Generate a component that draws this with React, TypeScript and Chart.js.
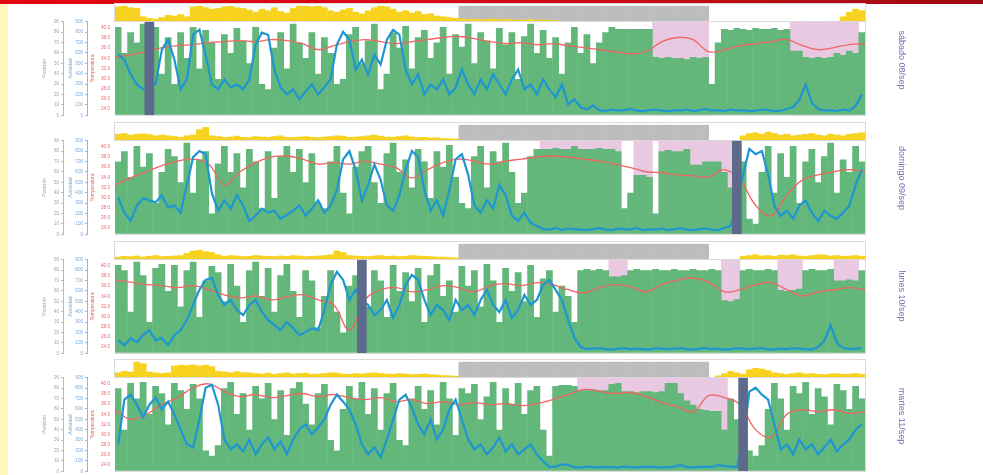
import React, { useEffect, useRef } from 'react';
import { Chart, registerables } from 'chart.js';

Chart.register(...registerables);
Chart.defaults.font.family = "'Liberation Sans', Arial, sans-serif";

// ---------- time base ----------
const START_MINUTES = 12 * 60; // record starts at 12:00
const BIN_MINUTES = 12;
const TEMP_STEP_HOURS = 0.5;
const DAY_HOURS = 24;
const NIGHT_RANGE: [number, number] = [55, 94]; // bins of the sleep window (grey)

// ---------- axes ----------
const POS_MAX = 90;
const POS_STEP = 10;
const ACT_MAX = 900;
const ACT_STEP = 100;
const TEMP_MIN = 22.8;
const TEMP_MAX = 41.2;
const TEMP_STEP = 2;
const STRIP_MAX = 112;
const STRIP_NIGHT = 100;

// ---------- sábado 08/sep ----------
const D1_LABEL = 'sábado 08/sep';
const D1_GREEN = [
  85, 60, 80, 70, 88, 88, 85, 40, 75, 30, 80, 55, 85,
  45, 82, 70, 35, 78, 60, 84, 72, 50, 85, 30, 25, 65, 80, 45,
  88, 70, 55, 80, 40, 75, 60, 30, 35, 78, 85, 50, 72, 88, 25, 40,
  80, 65, 86, 45, 75, 82, 55, 70, 85, 40, 78, 66, 88, 50, 80, 72,
  45, 84, 68, 80, 35, 76, 88, 60, 82, 55, 75, 40, 70, 85, 60, 78, 50,
  70, 80, 85, 83, 83, 83, 83, 83, 83,
  56, 55, 56, 55, 55, 54, 56, 55, 56, 30, 70,
  83, 82, 84, 83, 82, 84, 83, 83, 84, 82, 83,
  62, 62, 56, 55, 56, 55, 56, 60, 58, 62, 60, 80,
];
const D1_BLUE = [
  584, 536, 393, 297, 249, 297, 297,
  632, 728, 536, 249, 345, 775, 823, 584, 297, 249, 345, 268, 297,
  249, 345, 680, 795, 775, 440, 268, 201,
  249, 153, 230, 297, 201, 268, 345, 680,
  804, 728, 440, 536, 393, 584, 488, 728,
  823, 775, 440, 297, 393, 201, 297, 249,
  345, 201, 268, 440, 297, 201, 345, 249,
  393, 297, 201, 345, 440, 249, 297, 201,
  345, 249, 172, 297, 105, 153, 77, 57, 96, 48,
  40, 55, 45, 50, 60, 45, 40, 50, 55, 45, 40, 50,
  45, 55, 40, 50, 60, 45, 50, 40, 55, 45, 50, 40,
  45, 55, 50, 40, 45, 60, 80, 150, 297, 120, 60, 45,
  50, 40, 55, 45, 90, 200,
];
const D1_TEMP = [
  34.2, 34.7, 35.3, 36.1, 36.5, 36.7, 37.1, 37.3, 37.5, 37.3,
  37.7, 37.5, 36.9, 35.7, 36.5, 37.3, 37.7, 37.3, 36.9, 37.3,
  37.7, 38.1, 38.3, 37.9, 37.3, 36.9, 37.1, 36.7, 36.9, 36.5,
  36.1, 35.7, 35.3, 34.9, 35.3, 37.3, 38.1, 37.7, 35.3, 35.7,
  36.5, 36.9, 37.3, 37.7, 36.5, 35.7, 36.1, 36.7, 36.9,
];
const D1_LIGHT = [
  95, 100, 90, 85, 30, 20, 15, 25, 40, 35, 45, 30, 95, 100, 90,
  80, 85, 95, 100, 90, 85, 75, 60, 80, 70, 90, 65, 55, 85,
  100, 100, 95, 100, 90, 70, 60, 75, 85, 60, 50, 70, 90, 100, 95,
  80, 60, 70, 55, 65, 45, 50, 35, 30, 25, 20,
  15, 12, 15, 10, 12, 15, 10, 12, 10, 8, 10, 12, 8, 10, 6, 5,
  0, 0, 0, 0, 0, 0, 0, 0, 0, 0, 0, 0, 0, 0, 0,
  0, 0, 0, 0, 0, 0, 0, 0, 0, 0, 0, 0, 0, 0, 0,
  0, 0, 0, 0, 0, 0, 0, 0, 0, 0, 0, 0, 0, 0, 0,
  30, 60, 80, 70,
];
const D1_PINK: [number, number][] = [[86, 94], [108, 118]];
const D1_OFFWRIST = 5;

// ---------- domingo 09/sep ----------
const D2_LABEL = 'domingo 09/sep';
const D2_GREEN = [
  70, 80, 55, 85, 65, 78, 30, 60, 82, 75, 50, 88, 40, 72, 80, 20,
  68, 85, 60, 78, 45, 82, 70, 25, 80, 35, 75, 85, 60, 82, 50, 78,
  30, 25, 70, 85, 40, 20, 65, 80, 85, 50, 30, 78, 88, 60, 72, 45,
  82, 70, 35, 80, 65, 86, 55, 30, 25, 75, 85, 45, 80, 70, 88, 60,
  30, 40, 75, 82,
  82, 82, 83, 82, 82, 85, 82, 82, 82, 83, 82, 82, 80,
  25, 40, 57, 57, 55, 20, 80, 81, 80, 80, 82,
  67, 67, 70, 70, 70, 60, 45, 85,
  70, 15, 10, 60, 85, 40, 78, 55, 85, 30, 70, 82, 50, 75, 88, 40, 72, 60, 85, 70,
];
const D2_BLUE = [
  356, 208, 129, 277, 346, 326, 307, 376, 257, 277,
  208, 475, 742, 801, 771, 396, 227, 326, 247, 376,
  277, 129, 178, 247, 208, 227, 148, 188, 227,
  277, 178, 247, 326, 208, 277, 425, 722, 801, 623,
  326, 475, 672, 524, 277, 227, 376, 623, 801, 742,
  425, 227, 326, 178, 425, 722, 771, 574, 277, 208,
  326, 247, 475, 376, 178, 129, 208, 109, 79,
  50, 45, 60, 40, 55, 50, 45, 40, 50, 60,
  45, 40, 55, 50, 45, 60, 40, 50, 45, 55,
  40, 50, 60, 45, 40, 50, 55, 45, 40, 60, 80,
  300,
  574, 821, 771, 801, 574, 277, 178, 227, 148, 277,
  326, 208, 129, 227, 178, 148, 208, 277, 475, 623,
];
const D2_TEMP = [
  32.5, 33.9, 35.1, 36.3, 37.2, 37.6, 36.6, 32.5, 35.1, 36.9,
  38.0, 38.2, 37.6, 36.6, 36.9, 36.6, 37.2, 36.6, 35.9, 33.9,
  35.5, 36.9, 37.6, 37.2, 36.6, 37.2, 37.6, 38.0, 38.2, 38.0,
  37.6, 37.2, 36.6, 35.9, 35.1, 34.9, 34.5, 34.3, 34.1, 35.5,
  33.5, 28.5, 26.4, 30.5, 33.5, 34.5, 35.1, 35.5, 35.1,
];
const D2_LIGHT = [
  40, 45, 35, 40, 42, 38, 30, 35, 30, 25, 20, 30, 35, 70, 85,
  30, 25, 20, 22, 28, 20, 18, 25, 22, 20, 25, 30, 20, 18, 22, 25,
  20, 18, 22, 25, 30, 28, 20, 22, 25, 30, 35, 28, 22, 20, 25, 30,
  22, 18, 20, 15, 18, 12, 10, 8,
  0, 0, 0, 0, 0, 0, 0, 0, 0, 0, 0,
  0, 0, 0, 0, 0, 0, 0, 0, 0, 0, 0,
  0, 0, 0, 0, 0, 0, 0, 0, 0, 0, 0,
  0, 0, 0, 0, 0, 0, 0, 0, 0, 0, 0,
  0, 30, 45, 50, 40, 55, 45, 35, 40, 30, 35, 40, 45, 35, 30, 40, 35, 30, 40, 45, 50,
];
const D2_PINK: [number, number][] = [[68, 80], [83, 85], [87, 98]];
const D2_OFFWRIST = 99;

// ---------- lunes 10/sep ----------
const D3_LABEL = 'lunes 10/sep';
const D3_GREEN = [
  85, 80, 40, 88, 75, 30, 82, 86, 60, 85, 45, 80, 88, 35, 70, 84,
  78, 50, 86, 65, 30, 80, 88, 55, 82, 40, 75, 86, 60, 35, 80, 70,
  25, 55, 80, 40, 20, 65, 75, 85,
  45, 80, 70, 35, 85, 60, 78, 50, 82, 30, 75, 86, 55, 70, 40, 84,
  65, 80, 45, 86, 70, 30, 82, 60, 78, 50, 85, 35, 72, 80, 40, 65,
  55, 30, 80, 81, 80, 81, 80, 74, 74, 75,
  80, 81, 80, 80, 81, 80, 80, 81, 80, 80, 81, 80, 80, 81, 80,
  51, 50, 52, 80, 81, 80, 80, 81, 80, 61, 60, 61, 62,
  80, 81, 80, 80, 81, 70, 70, 71, 70, 80,
];
const D3_BLUE = [
  126, 77, 145, 106, 174, 223, 126, 145, 77, 174,
  223, 319, 465, 610, 706, 726, 561,
  465, 513, 416, 368, 465, 513, 397, 319,
  271, 223, 300, 242, 174, 203, 242, 223,
  416, 658, 784, 706, 513, 610, 513,
  465, 368, 416, 513, 339, 465, 658, 755,
  706, 513, 368, 465, 416, 319, 513, 416,
  465, 368, 513, 610, 465, 397, 513, 339,
  416, 561, 465, 513, 658, 706, 610, 513, 319,
  150, 60, 40, 45, 50, 40, 35, 45, 50, 40,
  45, 40, 35, 50, 45, 40, 45, 50, 40, 35,
  45, 50, 40, 45, 35, 40, 50, 45, 40, 45,
  50, 40, 35, 45, 40, 50, 45, 40, 35, 60,
  120, 271, 100, 50, 40, 45, 50,
];
const D3_TEMP = [
  37.2, 36.8, 36.3, 36.1, 35.7, 36.1, 35.3, 34.3, 33.7, 34.1,
  33.3, 33.9, 34.3, 33.3, 32.3, 27.4, 33.3, 35.3, 35.7, 34.9,
  35.3, 36.1, 35.7, 34.9, 36.1, 36.5, 36.1, 36.7, 36.3, 35.3,
  34.7, 35.7, 36.3, 35.9, 34.9, 36.3, 37.2, 37.6, 36.8, 34.9,
  35.3, 36.3, 36.7, 35.3, 34.1, 34.9, 35.3, 35.7, 35.3,
];
const D3_LIGHT = [
  15, 20, 18, 22, 15, 20, 25, 18, 20, 22, 25,
  40, 55, 60, 50, 45, 30,
  20, 25, 22, 18, 20, 25, 22, 20, 18, 22, 20, 25, 22, 18, 20, 22, 25, 30,
  55, 45,
  25, 22, 20, 18, 22, 25, 20, 22, 18, 20, 25, 22, 20, 18, 15, 15, 12, 10,
  0, 0, 0, 0, 0, 0, 0, 0, 0, 0, 0, 0, 0, 0, 0,
  0, 0, 0, 0, 0, 0, 0, 0, 0, 0, 0, 0, 0, 0, 0,
  0, 0, 0, 0, 0, 0, 0, 0, 0, 0, 0, 0, 0, 0, 0,
  20, 25, 30, 22, 25, 20, 28, 25, 30, 22, 20, 25, 30, 28, 22, 25, 20, 22, 25, 20,
];
const D3_PINK: [number, number][] = [[79, 81], [97, 99], [106, 109], [115, 118]];
const D3_OFFWRIST = 39;

// ---------- martes 11/sep ----------
const D4_LABEL = 'martes 11/sep';
const D4_GREEN = [
  80, 40, 85, 70, 86, 55, 82, 75, 45, 85, 78, 60, 84, 70, 20, 15,
  25, 80, 86, 55, 75, 40, 82, 70, 85, 50, 78, 35, 80, 86, 65, 45,
  75, 84, 30, 20, 60, 82, 70, 86, 55, 80, 40, 75, 85, 30, 25, 70,
  82, 60, 78, 45, 86, 70, 35, 80, 75, 84, 50, 72, 86, 40, 80, 65,
  85, 55, 78, 82, 40, 15,
  82, 83, 83, 82, 78, 78, 79, 78, 78, 84, 85,
  77, 77, 76, 77, 77, 76, 77, 85, 85, 75, 68,
  64, 60, 59, 58, 58, 40, 70, 50, 85,
  20, 15, 25, 60,
  85, 70, 40, 82, 75, 86, 55, 80, 72, 45, 84, 78, 60, 82, 70,
];
const D4_BLUE = [
  259, 689, 737, 641, 517, 641, 708, 594, 670, 546,
  402, 259, 230, 498, 804, 833, 641, 306, 211, 259,
  191, 306, 163, 259, 325, 211, 287, 163, 306, 402,
  450, 354, 421, 498, 641, 737, 670, 594, 450, 259,
  163, 230, 134, 306, 498, 689, 737, 613, 450, 354,
  498, 306, 402, 594, 689, 498, 306, 211, 259, 163,
  230, 325, 191, 259, 163, 211, 259, 163, 96,
  40, 45, 67, 60, 40, 35, 45, 40, 38, 42,
  40, 35, 45, 40, 38, 42, 45, 40, 35, 40,
  45, 60, 40, 38, 42, 45, 40, 60, 50, 45, 40,
  300,
  766, 804, 737, 689, 450, 211, 259, 163, 306, 211,
  259, 163, 230, 306, 191, 259, 306, 402, 450,
];
const D4_TEMP = [
  34.9, 33.0, 34.0, 35.9, 37.3, 39.2, 40.0, 38.5, 37.5, 37.9,
  37.3, 37.7, 38.1, 37.5, 37.9, 37.3, 36.9, 37.3, 36.5, 36.9,
  36.1, 36.5, 35.9, 36.3, 35.9, 36.1, 35.7, 36.1, 36.9, 37.9,
  38.9, 38.5, 38.1, 38.3, 37.5, 36.3, 35.5, 34.5, 37.7, 37.3,
  35.9, 31.0, 29.5, 34.0, 34.9, 34.5, 34.9, 34.2, 34.5,
];
const D4_LIGHT = [
  30, 40, 35, 100, 90, 35, 30, 25, 30,
  75, 80, 78, 82, 75, 80, 70, 40, 35, 30, 38, 32, 30,
  25, 22, 28, 20, 25, 30, 22, 25, 28, 20,
  22, 25, 30, 28, 22, 20, 25, 22, 28, 30,
  25, 22, 20, 25, 22, 18, 20, 22, 18, 15, 12, 10, 8,
  0, 0, 0, 0, 0, 0, 0, 0, 0, 0, 0, 0, 0, 0, 0, 0, 0, 0, 0, 0,
  0, 0, 0, 0, 0, 0, 0, 0, 0, 0, 0, 0, 0, 0, 0, 0, 0, 0, 0, 0,
  0, 10, 25, 40, 30, 20, 50, 60, 55, 45, 30, 25, 20, 25, 30,
  22, 25, 20, 18, 22, 25, 20, 22, 25, 20,
];
const D4_PINK: [number, number][] = [[74, 97]];
const D4_OFFWRIST = 100;

const BIN_LABELS = D1_GREEN.map((_, i) => {
  const m = (START_MINUTES + i * BIN_MINUTES) % 1440;
  return `${String(Math.floor(m / 60)).padStart(2, '0')}:${String(m % 60).padStart(2, '0')}`;
});

type Day = {
  label: string; green: number[]; blue: number[]; temp: number[]; light: number[];
  pink: [number, number][]; offwrist: number;
};
const DAYS: Day[] = [
  { label: D1_LABEL, green: D1_GREEN, blue: D1_BLUE, temp: D1_TEMP, light: D1_LIGHT, pink: D1_PINK, offwrist: D1_OFFWRIST },
  { label: D2_LABEL, green: D2_GREEN, blue: D2_BLUE, temp: D2_TEMP, light: D2_LIGHT, pink: D2_PINK, offwrist: D2_OFFWRIST },
  { label: D3_LABEL, green: D3_GREEN, blue: D3_BLUE, temp: D3_TEMP, light: D3_LIGHT, pink: D3_PINK, offwrist: D3_OFFWRIST },
  { label: D4_LABEL, green: D4_GREEN, blue: D4_BLUE, temp: D4_TEMP, light: D4_LIGHT, pink: D4_PINK, offwrist: D4_OFFWRIST },
];

// ---------- layout / style ----------
const CANVAS_LEFT = 38;
const W_POS = 25, W_ACT = 24, W_TEMP = 28;
const AXES_W = W_POS + W_ACT + W_TEMP;
const PLOT_W = 750;
const CANVAS_W = AXES_W + PLOT_W;
const PLOT_LEFT = CANVAS_LEFT + AXES_W;
const MAIN_TOPS = [22, 141, 260, 378];
const MAIN_H = 93;
const MAIN_PAD = 5;
const STRIP_H = 17;
const STRIP_GAP = 1;
const LABEL_CENTERS = [60, 178, 296, 416];
const LABEL_X = 902;

const C_GREEN = '#63b77b';
const C_PINK = '#e9c8e2';
const C_BLUE = '#1e96d2';
const C_RED = '#f06461';
const C_DARK = '#5d6a8b';
const C_YELLOW = '#f7d320';
const C_GREY = '#bdbdbd';
const C_POS = '#a3a3a3';
const C_ACT = '#78a8d8';
const C_TEMP = '#ea6464';

const BAR = { barPercentage: 1.08, categoryPercentage: 1, grouped: false, borderWidth: 0 };

function DayPanel({ d, idx }: { d: Day; idx: number }) {
  const stripRef = useRef<HTMLCanvasElement>(null);
  const mainRef = useRef<HTMLCanvasElement>(null);

  useEffect(() => {
    const inPink = (i: number) => d.pink.some(([a, b]) => i >= a && i <= b);
    const strip = new Chart(stripRef.current!, {
      type: 'bar',
      data: {
        labels: BIN_LABELS,
        datasets: [
          { data: d.light, backgroundColor: C_YELLOW, order: 0, ...BAR } as any,
          {
            data: BIN_LABELS.map((_, i) => (i >= NIGHT_RANGE[0] && i <= NIGHT_RANGE[1] ? STRIP_NIGHT : null)),
            backgroundColor: C_GREY, order: 1, ...BAR,
          } as any,
        ],
      },
      options: {
        responsive: false, animation: false, events: [],
        layout: { padding: { left: AXES_W, right: 0, top: 0, bottom: 0 } },
        plugins: { legend: { display: false }, tooltip: { enabled: false } },
        scales: { x: { display: false }, y: { display: false, min: 0, max: STRIP_MAX } },
      },
    });

    const tickFont = { size: 4.6 };
    const titleFont = { size: 5 };
    const main = new Chart(mainRef.current!, {
      type: 'bar',
      data: {
        labels: BIN_LABELS,
        datasets: [
          { type: 'bar', yAxisID: 'pos', data: BIN_LABELS.map((_, i) => (inPink(i) ? POS_MAX : null)), backgroundColor: C_PINK, order: 5, ...BAR },
          { type: 'bar', yAxisID: 'pos', data: d.green, backgroundColor: C_GREEN, order: 4, ...BAR },
          {
            type: 'line', xAxisID: 'xh', yAxisID: 'temp',
            data: d.temp.map((v, j) => ({ x: j * TEMP_STEP_HOURS, y: v })),
            borderColor: C_RED, borderWidth: 1.3, pointRadius: 0, tension: 0.4, order: 2,
          },
          {
            type: 'line', yAxisID: 'act', data: d.blue,
            borderColor: C_BLUE, borderWidth: 2.2, pointRadius: 0, tension: 0, order: 1,
          },
          {
            type: 'bar', yAxisID: 'pos', data: BIN_LABELS.map((_, i) => (i === d.offwrist ? POS_MAX : null)),
            backgroundColor: C_DARK, order: 0, barThickness: 9, grouped: false, borderWidth: 0,
          },
        ] as any,
      },
      options: {
        responsive: false, animation: false, events: [],
        layout: { padding: 0 },
        plugins: { legend: { display: false }, tooltip: { enabled: false } },
        scales: {
          x: { type: 'category', display: false },
          xh: { type: 'linear', display: false, min: 0, max: DAY_HOURS, offset: false, grid: { offset: false } },
          pos: {
            position: 'left', weight: 3, min: 0, max: POS_MAX,
            ticks: { stepSize: POS_STEP, color: C_POS, font: tickFont, padding: 2 },
            grid: { drawOnChartArea: false, tickLength: 2, color: '#b8b8b8' },
            border: { color: '#b8b8b8' },
            title: { display: true, text: 'Posición', color: C_POS, font: titleFont, padding: { top: 4, bottom: 0 } },
            afterFit: (s: any) => { s.width = W_POS; },
          },
          act: {
            position: 'left', weight: 2, min: 0, max: ACT_MAX,
            ticks: { stepSize: ACT_STEP, color: C_ACT, font: tickFont, padding: 2 },
            grid: { drawOnChartArea: false, tickLength: 2, color: '#9fb3cc' },
            border: { color: '#9fb3cc' },
            title: { display: true, text: 'Actividad', color: C_ACT, font: titleFont, padding: { top: 5, bottom: 0 } },
            afterFit: (s: any) => { s.width = W_ACT; },
          },
          temp: {
            position: 'left', weight: 1, min: TEMP_MIN, max: TEMP_MAX,
            ticks: {
              stepSize: TEMP_STEP, includeBounds: false, color: C_TEMP, font: tickFont, padding: 2,
              callback: (v: any) => Number(v).toFixed(1),
            },
            grid: { drawOnChartArea: false, tickLength: 3, color: 'rgba(0,0,0,0)' },
            border: { display: false },
            title: { display: true, text: 'Temperatura', color: C_TEMP, font: titleFont, padding: { top: 3, bottom: 0 } },
            afterFit: (s: any) => { s.width = W_TEMP; },
          },
        } as any,
      },
    });
    return () => { strip.destroy(); main.destroy(); };
  }, [d]);

  const mainTop = MAIN_TOPS[idx];
  const stripTop = mainTop - STRIP_GAP - STRIP_H;
  return (
    <>
      <div style={{ position: 'absolute', left: PLOT_LEFT - 1, top: stripTop - 1, width: PLOT_W + 2, height: STRIP_H + 2, border: '1px solid #dadada', boxSizing: 'border-box' }} />
      <canvas ref={stripRef} width={CANVAS_W} height={STRIP_H}
        style={{ position: 'absolute', left: CANVAS_LEFT, top: stripTop, width: CANVAS_W, height: STRIP_H }} />
      <div style={{ position: 'absolute', left: PLOT_LEFT, top: mainTop, width: PLOT_W + 1, height: MAIN_H + 1, borderRight: '1px solid #dadada', borderBottom: '1px solid #dadada', boxSizing: 'border-box' }} />
      <canvas ref={mainRef} width={CANVAS_W} height={MAIN_H + 2 * MAIN_PAD}
        style={{ position: 'absolute', left: CANVAS_LEFT, top: mainTop - MAIN_PAD, width: CANVAS_W, height: MAIN_H + 2 * MAIN_PAD }} />
      <div style={{ position: 'absolute', left: LABEL_X, top: LABEL_CENTERS[idx], width: 0, height: 0 }}>
        <div style={{
          position: 'absolute', left: 0, top: 0, transform: 'translate(-50%, -50%) rotate(90deg)',
          whiteSpace: 'nowrap', fontFamily: "'Liberation Sans', Arial, sans-serif", fontSize: 9, color: '#6b70b6',
        }}>{d.label}</div>
      </div>
    </>
  );
}

export default function App() {
  return (
    <div style={{ position: 'fixed', left: 0, top: 0, width: 983, height: 475, background: '#ffffff', overflow: 'hidden' }}>
      <div style={{ position: 'absolute', left: 0, top: 0, width: 983, height: 4, background: 'linear-gradient(90deg, #e30613 0%, #d40a18 55%, #9c0b10 100%)' }} />
      <div style={{ position: 'absolute', left: 0, top: 4, width: 8, height: 471, background: '#fff6bf' }} />
      {DAYS.map((d, i) => <DayPanel key={i} d={d} idx={i} />)}
    </div>
  );
}
